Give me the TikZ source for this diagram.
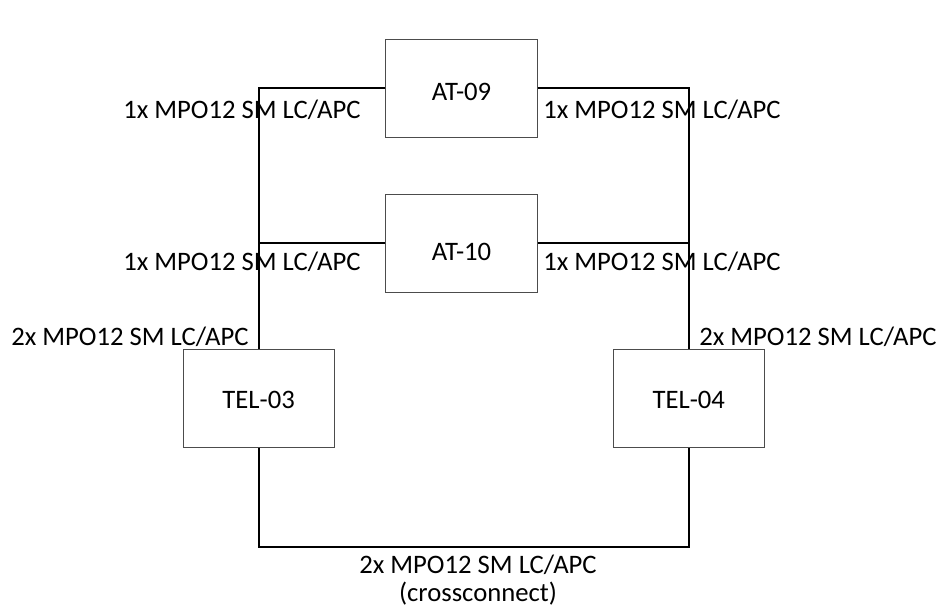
\documentclass[tikz,border=0pt]{standalone}
\usepackage{fontspec}
\setmainfont{Carlito}
\begin{document}
\begin{tikzpicture}[x=0.75pt,y=-0.75pt,
  box/.style={draw=black!70,line width=0.75pt,fill=white,minimum width=113.3pt,minimum height=73.5pt,inner sep=0pt,text depth=0pt,font=\fontsize{20}{24}\selectfont},
  conn/.style={draw=black,line width=1.5pt},
  lbl/.style={inner sep=0pt,font=\fontsize{20}{24}\selectfont}]
\path[use as bounding box] (0,0) rectangle (940,609);
\node[box,text height=18.5pt] (at09) at (461.5,88.3) {AT-09};
\node[box,text height=25.5pt] (at10) at (461.5,243.3) {AT-10};
\node[box,text height=14.9pt] (tel03) at (258.7,398.2) {TEL-03};
\node[box,text height=14.9pt] (tel04) at (688.8,398.2) {TEL-04};
\coordinate (bot) at (473,546.7);
\draw[conn] (at09.west) -| (tel03.north);
\draw[conn] (at09.east) -| (tel04.north);
\draw[conn] (at10.west) -- (at10.west -| tel03.north);
\draw[conn] (at10.east) -- (at10.east -| tel04.north);
\draw[conn] (tel03.south) |- (bot) -| (tel04.south);
% labels
\node[lbl,anchor=base west] (l1) at (123,118.5) {1x MPO12 SM LC/APC};
\node[lbl,anchor=base west] (r1) at (543,118.5) {1x MPO12 SM LC/APC};
\node[lbl,anchor=base west] (l2) at (123,270.5) {1x MPO12 SM LC/APC};
\node[lbl,anchor=base west] (r2) at (543,270.5) {1x MPO12 SM LC/APC};
\node[lbl,anchor=base west] (l3) at (11,345.7) {2x MPO12 SM LC/APC};
\node[lbl,anchor=base west] (r3) at (699,345.7) {2x MPO12 SM LC/APC};
\node[lbl,anchor=base] (b1) at (478,573.3) {2x MPO12 SM LC/APC};
\node[lbl,anchor=base] (b2) at (478,601.5) {(crossconnect)};
\end{tikzpicture}
\end{document}
